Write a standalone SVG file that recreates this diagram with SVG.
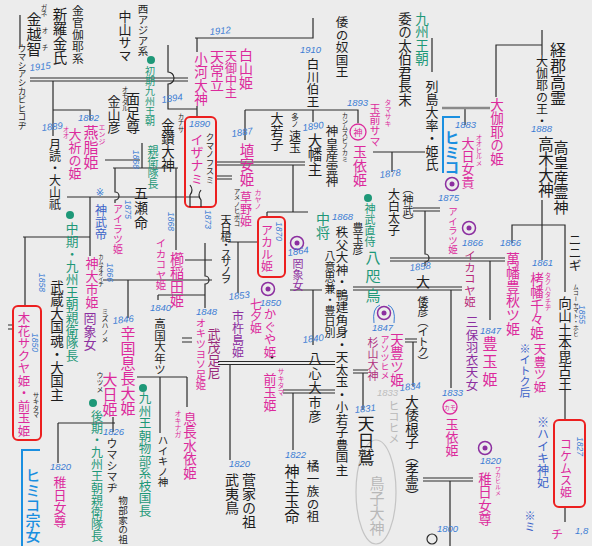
<svg xmlns="http://www.w3.org/2000/svg" width="592" height="546" viewBox="0 0 592 546">
<defs>
<style>
.v{writing-mode:vertical-rl;font-family:"Noto Sans CJK JP","Noto Sans CJK SC",sans-serif;}
.k{fill:#1d1d1d}.m{fill:#dc2a9c}.p{fill:#8c2fa0}.t{fill:#1e9878}.b{fill:#3a62c8}.c{fill:#1a8fe0;font-weight:700}.g{fill:#b8b8b8}
.y{font-family:"Liberation Sans",Arial,sans-serif;font-style:italic;fill:#3c7dd4;font-size:9.5px}
.yv{writing-mode:vertical-rl;font-family:"Liberation Sans",Arial,sans-serif;font-style:italic;fill:#3c7dd4;font-size:8.5px}
.ln{stroke:#2b2b2b;stroke-width:1.2;fill:none}
.gl{stroke:#8a8a8a;stroke-width:2.5;fill:none}
.rb{fill:none;stroke:#ec1f1f;stroke-width:2}
.cb{fill:none;stroke:#1a8fe0;stroke-width:2}
.pc{fill:none;stroke:#8c2fa0;stroke-width:1.5}
.pd{fill:#8c2fa0}
.td{fill:#1e9878}
</style>
</defs>
<rect width="592" height="546" fill="#ececec"/>

<g id="connectors" class="ln">
<path d="M20 15V46"/>
<path d="M30 78H188M30 81H188"/>
<path d="M168 45V72a6 6 0 0 1 0 12V109H197"/>
<path d="M53 81V136M53 110H90V120"/>
<path d="M195 38H313V18M197 38V52M197 106V117"/>
<path d="M245 110H358V123M245 110V140M313 110V122"/>
<path d="M216 162H305M216 165H305M216 176H232M216 179H232"/>
<path d="M293 165V212M267 212H308M267 212V217"/>
<path d="M373 152H425M392 152V172"/>
<path d="M432 38V72"/>
<path d="M496 97V45H542M542 30V55"/>
<path d="M465 108V125"/>
<path d="M67 197H200"/>
<path d="M90 197V256M23 237H90M25 237V306"/>
<path d="M115 168V192a4 4 0 0 1 0 8V203"/>
<path d="M113 168H178M142 143V168M105 160H140"/>
<path d="M176 168V250"/>
<path d="M185 260H212M103 280H212M128 280V318M158 295H205M158 295V300"/>
<path d="M205 243V276a4 4 0 0 1 0 8V308"/>
<path d="M228 242H258M238 242V293"/>
<path d="M290 290H322M313 290V345"/>
<path d="M218 361.5H335M218 364.5H335M230 365V460"/>
<path d="M283 390H335M283 393H335M293 393V450"/>
<path d="M353 370H368M353 373H368M363 373V410"/>
<path d="M353 287H462M353 290H462"/>
<path d="M425 211V254a4 4 0 0 1 0 8V266"/>
<path d="M413 208H440M413 211H440"/>
<path d="M390 258H505M390 261H505M490 261V320"/>
<path d="M451 290V388"/>
<path d="M405 339H417M405 342H417M413 342V386"/>
<path d="M423 478H473M423 481H473M450 481V546"/>
<path d="M512 243V225H565V292M542 200V260"/>
<path d="M565 390V420M565 507V522"/>
<path d="M137 377H187M160 377V433M187 377V407"/>
<path d="M58 423H115M58 423V463M113 417V432"/>
<path d="M8 325H14M8 329H14M182 338H192M182 342H192"/>
</g>
<path class="gl" d="M442 108H490"/>
<path class="cb" d="M460 117H443V173M40 450H22V546"/>
<g id="red-boxes">
<rect class="rb" x="185" y="117" width="31" height="90" rx="5"/>
<rect class="rb" x="258" y="217" width="27" height="60" rx="5"/>
<rect class="rb" x="13" y="306" width="28" height="134" rx="5"/>
<rect class="rb" x="554" y="420" width="31" height="87" rx="5"/>
</g>
<path class="ln" d="M190 185q4 5 0 10V207M201 190q-4 5 0 10V207"/>

<g id="marks">
<circle class="td" cx="151" cy="60" r="4"/><circle class="td" cx="70" cy="215" r="4"/><circle class="td" cx="93" cy="403" r="4"/><circle class="td" cx="143" cy="388" r="4"/><circle class="td" cx="368" cy="198" r="4"/>
<g><circle class="pc" cx="452" cy="184" r="6.5"/><circle class="pd" cx="452" cy="184" r="2.5"/></g>
<g><circle class="pc" cx="297" cy="243" r="6.5"/><circle class="pd" cx="297" cy="243" r="2.5"/></g>
<g><circle class="pc" cx="268" cy="289" r="6.5"/><circle class="pd" cx="268" cy="289" r="2.5"/></g>
<g><circle class="pc" cx="469" cy="228" r="6.5"/><circle class="pd" cx="469" cy="228" r="2.5"/></g>
<g><circle class="pc" cx="384" cy="313" r="6.5"/><circle class="pd" cx="384" cy="313" r="2.5"/></g>
<g><circle class="pc" cx="485" cy="448" r="6.5"/><circle class="pd" cx="485" cy="448" r="2.5"/></g>
<path d="M374 323Q372 308 380 305M394 323Q396 308 388 305" fill="none" stroke="#3c7dd4" stroke-width="1"/>
<circle cx="358" cy="132" r="8" fill="none" stroke="#dc2a9c" stroke-width="1.3"/>
<text x="358" y="135.5" font-size="9" text-anchor="middle" font-family="Noto Sans CJK JP,sans-serif" class="m">神</text>
<circle cx="450" cy="407" r="7" fill="none" stroke="#dc2a9c" stroke-width="1.3"/>
<text x="450" y="409.5" font-size="6" text-anchor="middle" font-family="Noto Sans CJK JP,sans-serif" class="m">カモ</text>
<circle cx="432" cy="539" r="5" fill="none" stroke="#2b2b2b" stroke-width="1.2"/>
<circle cx="272" cy="357" r="1.5" fill="#1d1d1d"/>
<ellipse cx="376" cy="492" rx="20" ry="52" fill="none" stroke="#c4c4c4" stroke-width="1.2"/>
<text x="100" y="196" font-size="10" text-anchor="middle" fill="#3c7dd4" font-family="DejaVu Sans,sans-serif">※</text>
</g>

<g id="years">
<text class="y" x="30" y="71" transform="rotate(-6 30 71)">1915</text>
<text class="y" x="162" y="103" transform="rotate(-8 162 103)">1894</text>
<text class="y" x="78" y="121">1892</text>
<text class="y" x="42" y="131" transform="rotate(-6 42 131)">1889</text>
<text class="y" x="210" y="35" transform="rotate(-5 210 35)">1912</text>
<text class="y" x="300" y="53">1910</text>
<text class="y" x="232" y="137" transform="rotate(-8 232 137)">1887</text>
<text class="y" x="303" y="131" transform="rotate(-8 303 131)">1890</text>
<text class="y" x="347" y="106">1893</text>
<text class="y" x="380" y="178" transform="rotate(-6 380 178)">1878</text>
<text class="y" x="531" y="132">1888</text>
<text class="y" x="455" y="128">1883</text>
<text class="y" x="189" y="127">1890</text>
<text class="y" x="332" y="220">1868</text>
<text class="y" x="288" y="256" transform="rotate(-8 288 256)">1864</text>
<text class="y" x="260" y="306">1850</text>
<text class="y" x="229" y="300" transform="rotate(-6 229 300)">1853</text>
<text class="y" x="196" y="315">1848</text>
<text class="y" x="113" y="324" transform="rotate(-6 113 324)">1846</text>
<text class="y" x="150" y="311">1840</text>
<text class="y" x="303" y="343" transform="rotate(-6 303 343)">1840</text>
<text class="y" x="410" y="271" transform="rotate(-6 410 271)">1858</text>
<text class="y" x="438" y="201">1875</text>
<text class="y" x="462" y="246">1866</text>
<text class="y" x="500" y="246">1866</text>
<text class="y" x="532" y="266">1861</text>
<text class="y" x="372" y="331">1847</text>
<text class="y" x="480" y="334">1847</text>
<text class="y" x="400" y="391" transform="rotate(-6 400 391)">1834</text>
<text class="y" x="442" y="396">1833</text>
<text class="y" x="355" y="413" transform="rotate(-6 355 413)">1831</text>
<text class="y" x="103" y="435">1826</text>
<text class="y" x="285" y="458">1822</text>
<text class="y" x="50" y="470">1820</text>
<text class="y" x="229" y="467">1820</text>
<text class="y" x="480" y="464">1820</text>
<text class="y" x="437" y="532">1800</text>
<text class="y" x="575" y="534">1,8</text>
<text class="y" x="377" y="396" style="fill:#bdbdbd">1833</text>
<text class="yv" x="208" y="210">1873</text>
<text class="yv" x="279" y="222">1870</text>
<text class="yv" x="128" y="200">1875</text>
<text class="yv" x="171" y="212">1868</text>
<text class="yv" x="110" y="263">1866</text>
<text class="yv" x="136" y="150">1868</text>
<text class="yv" x="42" y="273">1858</text>
<text class="yv" x="35" y="333">1850</text>
<text class="yv" x="582" y="305">1855</text>
<text class="yv" x="580" y="437">1827</text>
</g>

<g id="n-umashi"><text class="v k" x="22" y="44" style="font-size:8.6px">ウマシアシカビヒコヂ</text></g>
<g id="n-kaneochi"><text class="v k" x="34" y="12" style="font-size:15px">金越智</text><text class="v k" x="44" y="4" style="font-size:6.5px">ガネ</text><text class="v k" x="45" y="27" style="font-size:6.5px">オ</text><text class="v k" x="45" y="44" style="font-size:6.5px">チ</text></g>
<g id="n-shiragi"><text class="v k" x="60" y="7" style="font-size:14.5px">新羅金氏</text></g>
<g id="n-kinkan"><text class="v k" x="78" y="5" style="font-size:11.8px">金官伽耶系</text></g>
<g id="n-nakayama"><text class="v k" x="125" y="10" style="font-size:13px">中山サマ</text></g>
<g id="n-nishiasia"><text class="v k" x="143" y="4" style="font-size:10.5px">西アジア系</text></g>
<g id="n-shoki"><text class="v t" x="150" y="66" style="font-size:10px">初期九州王朝</text><text class="v t" x="153" y="145" style="font-size:11px">親衛隊長</text></g>
<g id="n-kanayama"><text class="v k" x="114" y="95" style="font-size:13px">金山彦</text></g>
<g id="n-omodaru"><text class="v k" x="133" y="92" style="font-size:14px">面足尊</text><text class="v k" x="125" y="86" style="font-size:6.5px">オモダル</text></g>
<g id="n-kanasana"><text class="v k" x="168" y="118" style="font-size:13.5px">金鑽大神</text><text class="v k" x="181" y="113" style="font-size:6.5px">カナサ</text></g>
<g id="n-tsukuyomi"><text class="v k" x="55" y="138" style="font-size:12px">月読・大山祇</text></g>
<g id="n-ooinori"><text class="v m" x="75" y="128" style="font-size:13px">大祈の姫</text><text class="v m" x="66" y="126" style="font-size:6.5px">オオ</text></g>
<g id="n-enji"><text class="v m" x="91" y="125" style="font-size:15px">燕脂姫</text><text class="v m" x="102" y="124" style="font-size:7px">エンジ</text></g>
<g id="n-ogawa"><text class="v m" x="201" y="52" style="font-size:13.5px">小河大神</text></g>
<g id="n-tokotachi"><text class="v m" x="217" y="50" style="font-size:14px">天常立</text></g>
<g id="n-minakanushi"><text class="v m" x="231" y="50" style="font-size:12px">天御中主</text></g>
<g id="n-shirayama"><text class="v m" x="246" y="48" style="font-size:14px">白山姫</text></g>
<g id="n-izanami"><text class="v m" x="197" y="133" style="font-size:13px">イザナ</text><text class="v m" x="197" y="173" style="font-size:12px">ミ</text><text class="v k" x="210" y="133" style="font-size:8.5px">クマノフスミ</text></g>
<g id="n-nakoku"><text class="v k" x="342" y="16" style="font-size:12.5px">倭の奴国王</text></g>
<g id="n-shirakawa"><text class="v k" x="313" y="58" style="font-size:12.5px">白川伯王</text></g>
<g id="n-haniyasu"><text class="v m" x="247" y="143" style="font-size:14.5px">埴安姫</text></g>
<g id="n-kayano"><text class="v m" x="246" y="191" style="font-size:12px">草野姫</text><text class="v m" x="258" y="189" style="font-size:7px">カヤノ</text></g>
<g id="n-owakago"><text class="v k" x="277" y="112" style="font-size:13px">大若子</text></g>
<g id="n-hayatama"><text class="v k" x="295" y="113" style="font-size:7.5px">多ノ</text><text class="v k" x="295" y="130" style="font-size:12px">速玉</text></g>
<g id="n-ohata"><text class="v k" x="315" y="133" style="font-size:14.5px">大幡主</text></g>
<g id="n-kamimusubi"><text class="v k" x="332" y="125" style="font-size:12.5px">神皇産霊神</text><text class="v k" x="345" y="112" style="font-size:6.3px">カンムスビノカミ</text></g>
<g id="n-tamasaki"><text class="v m" x="375" y="103" style="font-size:11px">玉前サマ</text><text class="v m" x="388" y="99" style="font-size:7px">タマサキ</text></g>
<g id="n-tamayori"><text class="v m" x="360" y="145" style="font-size:14px">玉依姫</text></g>
<g id="n-kyushu"><text class="v t" x="422" y="12" style="font-size:13.5px">九州王朝</text></g>
<g id="n-taihaku"><text class="v k" x="405" y="12" style="font-size:13.5px">委の太伯君長末</text></g>
<g id="n-retto"><text class="v k" x="432" y="80" style="font-size:13px">列島大率・姫氏</text></g>
<g id="n-okaya-hime"><text class="v m" x="497" y="98" style="font-size:13.5px">大伽耶の姫</text></g>
<g id="n-keigun"><text class="v k" x="558" y="42" style="font-size:16px">経郡高霊</text></g>
<g id="n-okaya-ou"><text class="v k" x="542" y="55" style="font-size:12px">大伽耶の王・</text></g>
<g id="n-takagi"><text class="v k" x="546" y="136" style="font-size:15.5px">高木大神</text></g>
<g id="n-takami"><text class="v k" x="561" y="140" style="font-size:15px">高皇産霊神</text></g>
<g id="n-himiko"><text class="v c" x="452" y="130" style="font-size:15px">ヒミコ</text></g>
<g id="n-ohirume"><text class="v m" x="468" y="137" style="font-size:13px">大日女貴</text><text class="v m" x="479" y="134" style="font-size:6.5px">オオヒルメ</text></g>
<g id="n-ohaku"><text class="v k" x="394" y="188" style="font-size:12px">大白太子</text><text class="v k" x="408" y="183" style="font-size:11px">（神武）</text></g>
<g id="n-jiji"><text class="v t" x="370" y="203" style="font-size:11px">神武直侍</text></g>
<g id="n-yatagarasu"><text class="v t" x="373" y="250" style="font-size:15px;letter-spacing:4px">八咫烏</text></g>
<g id="n-chujo"><text class="v t" x="323" y="212" style="font-size:14px">中将</text></g>
<g id="n-toyotamahiko"><text class="v k" x="358" y="222" style="font-size:11px">豊玉彦</text></g>
<g id="n-chichibu"><text class="v k" x="342" y="226" style="font-size:12.5px">秩父大神・鴨建角身・天太玉・小若子豊国主</text></g>
<g id="n-yagokoro"><text class="v k" x="330" y="250" style="font-size:11px">八意思兼・豊日別</text></g>
<g id="n-susano"><text class="v k" x="237" y="188" style="font-size:6.5px">アメノヒボコ</text><text class="v k" x="226" y="214" style="font-size:11px;letter-spacing:-2.5px">天日槍・スサノヲ</text></g>
<g id="n-akaru"><text class="v m" x="267" y="224" style="font-size:12px">アカル姫</text></g>
<g id="n-mizuha1"><text class="v p" x="298" y="258" style="font-size:11px">罔象女</text></g>
<g id="n-kaguya"><text class="v m" x="270" y="308" style="font-size:12.5px">かぐや姫</text></g>
<g id="n-tanabata"><text class="v m" x="256" y="298" style="font-size:12px">七夕姫</text></g>
<g id="n-ichikishima"><text class="v p" x="238" y="310" style="font-size:12px">市杵島姫</text></g>
<g id="n-yosotarashi"><text class="v m" x="201" y="318" style="font-size:10.3px">オキツヨソ足姫</text></g>
<g id="n-takemo"><text class="v" x="214" y="328" style="font-size:13px;fill:#9a2a7a">武茂足尼</text></g>
<g id="n-itsuse"><text class="v k" x="141" y="186" style="font-size:14px;letter-spacing:1px">五瀬命</text></g>
<g id="n-chuki"><text class="v t" x="72" y="222" style="font-size:12.7px">中期・九州王朝親衛隊長</text></g>
<g id="n-jinmu"><text class="v b" x="101" y="204" style="font-size:12px">神武帝</text></g>
<g id="n-aira1"><text class="v m" x="118" y="204" style="font-size:10px">アイラツ姫</text></g>
<g id="n-ikakoya1"><text class="v m" x="161" y="238" style="font-size:10.5px">イカコヤ姫</text></g>
<g id="n-kushinada"><text class="v m" x="177" y="252" style="font-size:14px">櫛稲田姫</text></g>
<g id="n-kamuoichi"><text class="v m" x="92" y="257" style="font-size:13px">神大市姫</text><text class="v k" x="101" y="254" style="font-size:5.5px">カムオオイチ</text></g>
<g id="n-mizuha2"><text class="v k" x="105" y="308" style="font-size:7px">ミズハノメ</text><text class="v p" x="90" y="312" style="font-size:13px">罔象女</text></g>
<g id="n-karakuni"><text class="v m" x="128" y="326" style="font-size:15px">辛国息長大姫</text></g>
<g id="n-takakuni"><text class="v k" x="160" y="318" style="font-size:11.5px">高国大年ツ</text></g>
<g id="n-musashi"><text class="v k" x="57" y="280" style="font-size:13.5px">武蔵大国魂・大国主</text></g>
<g id="n-konohana"><text class="v m" x="24" y="312" style="font-size:12.5px">木花サクヤ姫・前玉姫</text><text class="v k" x="36" y="392" style="font-size:6.5px">サキタマ</text></g>
<g id="n-himiko-sojo"><text class="v c" x="33" y="468" style="font-size:15px;font-weight:500">ヒミコ宗女</text></g>
<g id="n-wakahirume1"><text class="v m" x="60" y="476" style="font-size:13px">稚日女尊</text></g>
<g id="n-koki"><text class="v t" x="97" y="410" style="font-size:12px">後期・九州王朝親衛隊長</text></g>
<g id="n-oohi"><text class="v m" x="110" y="372" style="font-size:15px">大日姫</text><text class="v k" x="100" y="372" style="font-size:7px">ウツメ</text></g>
<g id="n-umashimaji"><text class="v k" x="112" y="438" style="font-size:11px">ウマシマヂ</text><text class="v k" x="123" y="496" style="font-size:9.6px">物部家の祖</text></g>
<g id="n-mononobe-kuni"><text class="v t" x="145" y="392" style="font-size:12.5px">九州王朝物部系枝国長</text></g>
<g id="n-haiki"><text class="v k" x="163" y="435" style="font-size:10.5px">ハイキノ神</text></g>
<g id="n-mizuyori"><text class="v m" x="190" y="412" style="font-size:13.5px">息長水依姫</text><text class="v m" x="178" y="410" style="font-size:7px">オキナガ</text></g>
<g id="n-takehina"><text class="v k" x="232" y="473" style="font-size:14px">武夷鳥</text><text class="v k" x="249" y="473" style="font-size:14px">菅家の祖</text></g>
<g id="n-sakitama"><text class="v m" x="270" y="373" style="font-size:13px">前玉姫</text><text class="v m" x="281" y="368" style="font-size:7px">サキタマ</text></g>
<g id="n-yagokoro2"><text class="v k" x="315" y="352" style="font-size:13px;letter-spacing:1.5px">八心大市彦</text></g>
<g id="n-kamitama"><text class="v k" x="292" y="464" style="font-size:15px">神主玉命</text></g>
<g id="n-tachibana"><text class="v k" x="313" y="460" style="font-size:12.5px">橘一族の祖</text></g>
<g id="n-hiwashi"><text class="v k" x="366" y="415" style="font-size:17px">天日鷲</text></g>
<g id="n-faint"><text class="v g" x="394" y="400" style="font-size:11px">ヒコヒメ</text><text class="v g" x="377" y="476" style="font-size:15px">鳥子大神</text></g>
<g id="n-asotsu"><text class="v m" x="385" y="335" style="font-size:9px">アソツヒメ</text></g>
<g id="n-sugiyama"><text class="v" x="373" y="337" style="font-size:11px;fill:#b0307e">杉山大神</text></g>
<g id="n-amatoyotsu1"><text class="v m" x="397" y="333" style="font-size:13.5px">天豊ツ姫</text></g>
<g id="n-yamatohiko"><text class="v k" x="423" y="275" style="font-size:14px">大</text><text class="v k" x="423" y="296" style="font-size:11px;letter-spacing:-1px">倭彦（イトク）</text></g>
<g id="n-yamatoneko"><text class="v k" x="412" y="395" style="font-size:13.5px">大倭根子（孝霊）</text></g>
<g id="n-aira2"><text class="v m" x="453" y="207" style="font-size:9.5px">アイラツ姫</text></g>
<g id="n-ikakoya2"><text class="v" x="470" y="250" style="font-size:11.5px;fill:#b82a7a">イカコヤ姫</text></g>
<g id="n-miho"><text class="v p" x="472" y="316" style="font-size:12.5px">三保羽衣天女</text></g>
<g id="n-toyotama"><text class="v m" x="490" y="336" style="font-size:15px;letter-spacing:3px">豊玉姫</text></g>
<g id="n-yorozuhata"><text class="v m" x="513" y="252" style="font-size:14px">萬幡豊秋ツ姫</text></g>
<g id="n-takuhata"><text class="v m" x="537" y="272" style="font-size:13.5px">栲幡千々姫</text><text class="v m" x="548" y="272" style="font-size:6.5px">タクハタチヂ</text></g>
<g id="n-amatoyotsu2"><text class="v m" x="540" y="343" style="font-size:12.5px">天豊ツ姫</text></g>
<g id="n-itoku-kisaki"><text class="v b" x="525" y="343" style="font-size:11px">※イトク后</text></g>
<g id="n-ninigi"><text class="v k" x="575" y="233" style="font-size:13px">ニニギ</text></g>
<g id="n-mukou"><text class="v k" x="576" y="284" style="font-size:5.8px">ムコーヤマト・ホヒ</text><text class="v k" x="565" y="296" style="font-size:13.5px">向山土本毘古王</text></g>
<g id="n-tamayori2"><text class="v m" x="452" y="418" style="font-size:13px">玉依姫</text></g>
<g id="n-wakahirume2"><text class="v m" x="485" y="472" style="font-size:13.5px">稚日女尊</text><text class="v m" x="498" y="466" style="font-size:6px">ワカヒルメ</text></g>
<g id="n-haiki-hi"><text class="v b" x="543" y="416" style="font-size:12px">※ハイキ神妃</text></g>
<g id="n-kokemusu"><text class="v m" x="566" y="438" style="font-size:12px">コケムス姫</text></g>
<g id="n-bottom-right"><text class="v b" x="530" y="510" style="font-size:11px">※ミ</text><text class="v m" x="557" y="528" style="font-size:12px">チ</text></g>
</svg>
